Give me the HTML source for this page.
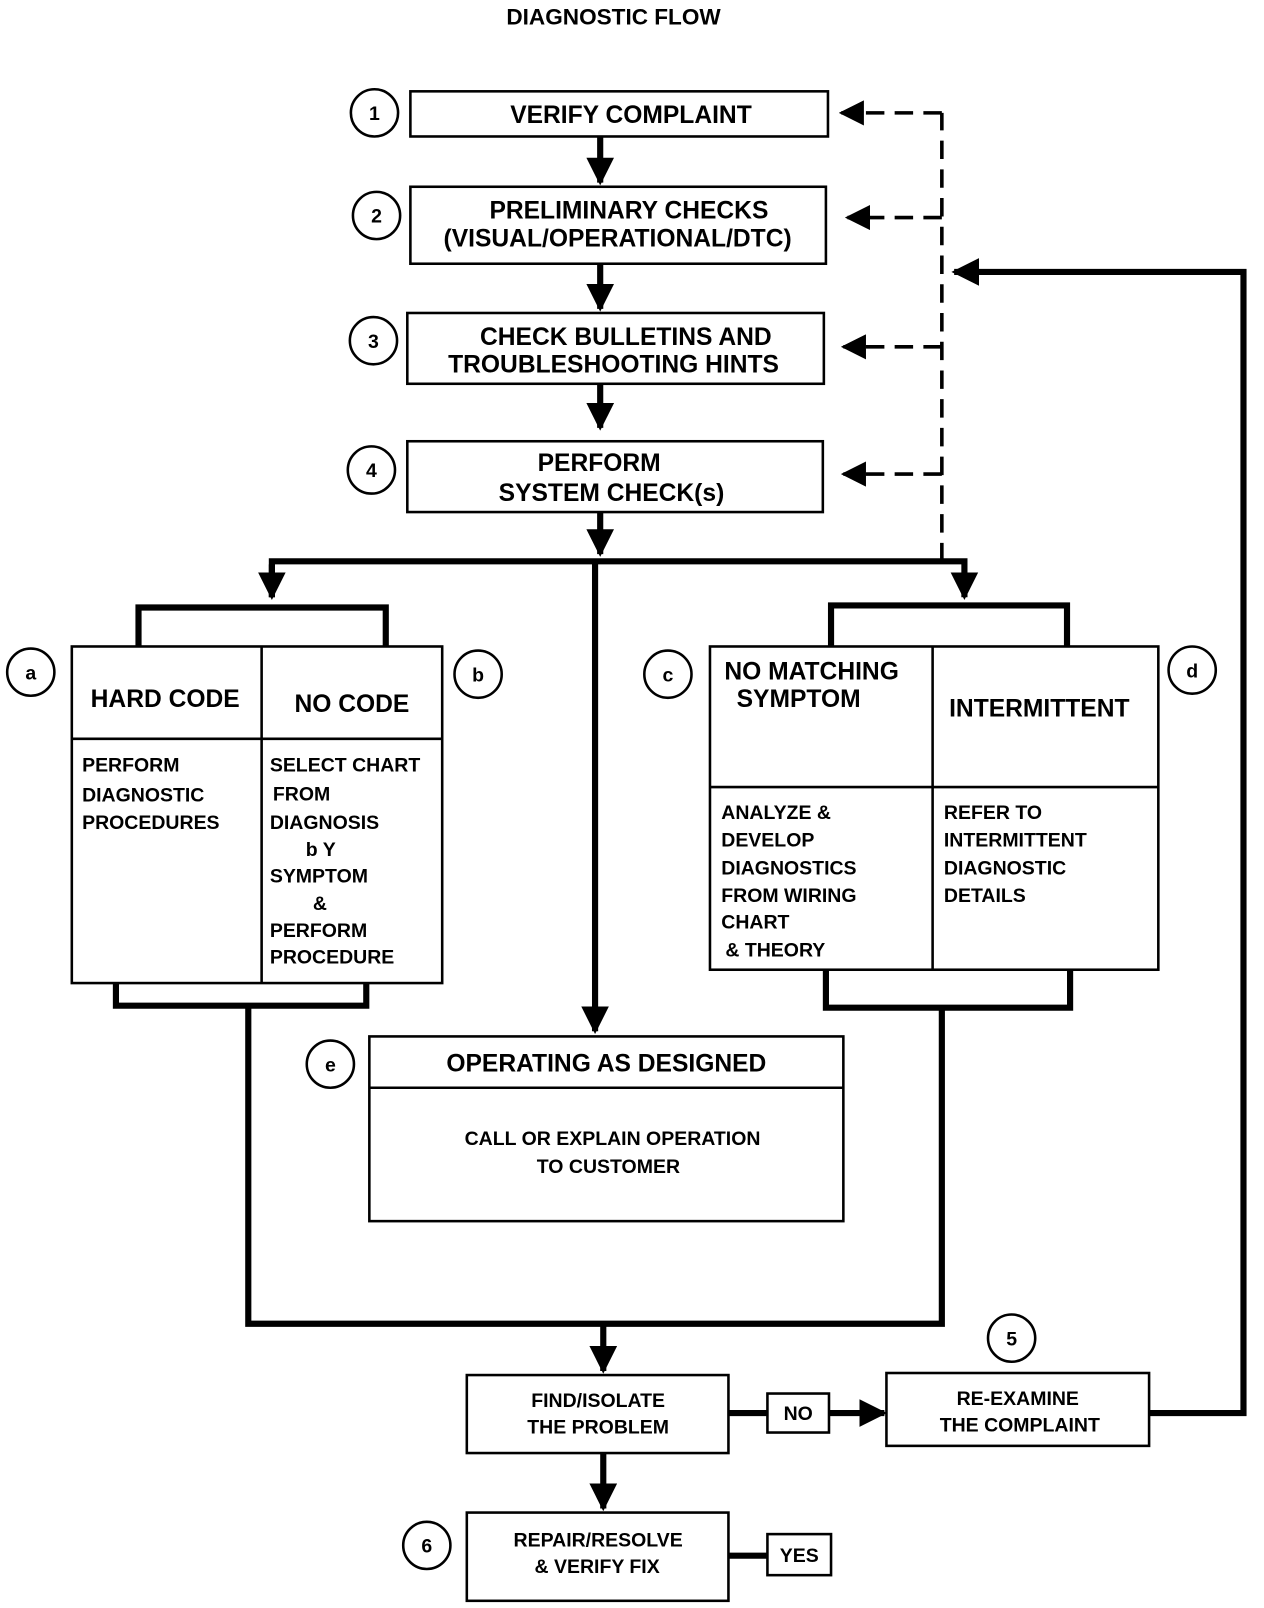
<!DOCTYPE html>
<html><head><meta charset="utf-8"><style>
html,body{margin:0;padding:0;background:#fff;}
svg{display:block;}
text{font-family:"Liberation Sans",sans-serif;font-weight:bold;fill:#000;}
</style></head><body>
<svg width="1264" height="1608" viewBox="0 0 1232 1567" preserveAspectRatio="none" xmlns="http://www.w3.org/2000/svg">
<defs>
<marker id="ah" viewBox="0 0 10 10" refX="9" refY="5" markerWidth="4.5" markerHeight="4.5" orient="auto" markerUnits="strokeWidth"><path d="M0,0 L10,5 L0,10 z" fill="#000"/></marker>
<marker id="ad" viewBox="0 0 10 10" refX="9" refY="5" markerWidth="7" markerHeight="7" orient="auto" markerUnits="strokeWidth"><path d="M0,0 L10,5 L0,10 z" fill="#000"/></marker>
</defs>
<text x="598" y="24" font-size="22" text-anchor="middle">DIAGNOSTIC FLOW</text>

<g fill="none" stroke="#000" stroke-width="2.5">
<rect x="400" y="89" width="407" height="44"/>
<rect x="400" y="182" width="405" height="75"/>
<rect x="397" y="305" width="406" height="69"/>
<rect x="397" y="430" width="405" height="69"/>
<rect x="70" y="630" width="361" height="328"/>
<line x1="255" y1="630" x2="255" y2="958"/><line x1="70" y1="720" x2="431" y2="720"/>
<rect x="692" y="630" width="437" height="315"/>
<line x1="909" y1="630" x2="909" y2="945"/><line x1="692" y1="767" x2="1129" y2="767"/>
<rect x="360" y="1010" width="462" height="180"/>
<line x1="360" y1="1060" x2="822" y2="1060"/>
<rect x="455" y="1340" width="255" height="76"/>
<rect x="748" y="1358" width="60" height="38"/>
<rect x="864" y="1338" width="256" height="71"/>
<rect x="455" y="1474" width="255" height="86"/>
<rect x="748" y="1495" width="62" height="40"/>
<circle cx="365" cy="110" r="23"/><circle cx="367" cy="210" r="23"/>
<circle cx="364" cy="332" r="23"/><circle cx="362" cy="458" r="23"/>
<circle cx="30" cy="655" r="23"/><circle cx="466" cy="657" r="23"/>
<circle cx="651" cy="657" r="23"/><circle cx="1162" cy="653" r="23"/>
<circle cx="322" cy="1037" r="23"/><circle cx="986" cy="1304" r="23"/>
<circle cx="416" cy="1506" r="23"/>
</g>

<g fill="none" stroke="#000" stroke-width="6">
<line x1="585" y1="133" x2="585" y2="178" marker-end="url(#ah)"/>
<line x1="585" y1="257" x2="585" y2="301" marker-end="url(#ah)"/>
<line x1="585" y1="374" x2="585" y2="417" marker-end="url(#ah)"/>
<line x1="585" y1="499" x2="585" y2="540" marker-end="url(#ah)"/>
<polyline points="265,582 265,547 940,547 940,582" marker-end="url(#ah)"/>
<line x1="265" y1="550" x2="265" y2="582" marker-end="url(#ah)"/>
<line x1="580" y1="547" x2="580" y2="1005" marker-end="url(#ah)"/>
<polyline points="135,630 135,592 376,592 376,630"/>
<polyline points="810,630 810,590 1040,590 1040,630"/>
<polyline points="113,958 113,980 357,980 357,958"/>
<polyline points="805,945 805,982 1043,982 1043,945"/>
<polyline points="242,980 242,1290 918,1290 918,982"/>
<line x1="588" y1="1290" x2="588" y2="1336" marker-end="url(#ah)"/>
<line x1="710" y1="1377" x2="748" y2="1377"/>
<line x1="808" y1="1377" x2="862" y2="1377" marker-end="url(#ah)"/>
<polyline points="1120,1377 1212,1377 1212,265 930,265" marker-end="url(#ah)"/>
<line x1="588" y1="1416" x2="588" y2="1470" marker-end="url(#ah)"/>
<line x1="710" y1="1516" x2="748" y2="1516"/>
</g>

<g fill="none" stroke="#000" stroke-width="3.5" stroke-dasharray="18,10">
<line x1="918" y1="547" x2="918" y2="110"/>
<line x1="918" y1="110" x2="820" y2="110" marker-end="url(#ad)"/>
<line x1="918" y1="212" x2="826" y2="212" marker-end="url(#ad)"/>
<line x1="918" y1="338" x2="822" y2="338" marker-end="url(#ad)"/>
<line x1="918" y1="462" x2="822" y2="462" marker-end="url(#ad)"/>
</g>

<g font-size="24" text-anchor="middle">
<text x="615" y="120">VERIFY COMPLAINT</text>
<text x="613" y="213">PRELIMINARY CHECKS</text>
<text x="602" y="240">(VISUAL/OPERATIONAL/DTC)</text>
<text x="610" y="336">CHECK BULLETINS AND</text>
<text x="598" y="363">TROUBLESHOOTING HINTS</text>
<text x="584" y="459">PERFORM</text>
<text x="596" y="488">SYSTEM CHECK(s)</text>
<text x="161" y="689">HARD CODE</text>
<text x="343" y="694">NO CODE</text>
<text x="1013" y="698">INTERMITTENT</text>
<text x="591" y="1044">OPERATING AS DESIGNED</text>
</g>
<g font-size="24">
<text x="706" y="662">NO MATCHING</text>
<text x="718" y="689">SYMPTOM</text>
</g>
<g font-size="19">
<text x="80" y="752">PERFORM</text><text x="80" y="781">DIAGNOSTIC</text><text x="80" y="808">PROCEDURES</text>
<text x="263" y="752">SELECT  CHART</text><text x="266" y="780">FROM</text><text x="263" y="808">DIAGNOSIS</text>
<text x="298" y="834">b Y</text><text x="263" y="860">SYMPTOM</text><text x="305" y="887">&amp;</text>
<text x="263" y="913">PERFORM</text><text x="263" y="939">PROCEDURE</text>
<text x="703" y="798">ANALYZE &amp;</text><text x="703" y="825">DEVELOP</text><text x="703" y="852">DIAGNOSTICS</text>
<text x="703" y="879">FROM WIRING</text><text x="703" y="905">CHART</text><text x="707" y="932">&amp; THEORY</text>
<text x="920" y="798">REFER TO</text><text x="920" y="825">INTERMITTENT</text><text x="920" y="852">DIAGNOSTIC</text><text x="920" y="879">DETAILS</text>
</g>
<g font-size="19" text-anchor="middle">
<text x="597" y="1116">CALL OR EXPLAIN OPERATION</text>
<text x="593" y="1143">TO CUSTOMER</text>
<text x="583" y="1371">FIND/ISOLATE</text><text x="583" y="1397">THE PROBLEM</text>
<text x="778" y="1384">NO</text>
<text x="992" y="1369">RE-EXAMINE</text><text x="994" y="1395">THE COMPLAINT</text>
<text x="583" y="1507">REPAIR/RESOLVE</text><text x="582" y="1533">&amp; VERIFY FIX</text>
<text x="779" y="1522">YES</text>
<text x="365" y="117">1</text><text x="367" y="217">2</text><text x="364" y="339">3</text><text x="362" y="465">4</text>
<text x="30" y="662">a</text><text x="466" y="664">b</text><text x="651" y="664">c</text><text x="1162" y="660">d</text>
<text x="322" y="1044">e</text><text x="986" y="1311">5</text><text x="416" y="1513">6</text>
</g>
</svg>
</body></html>
